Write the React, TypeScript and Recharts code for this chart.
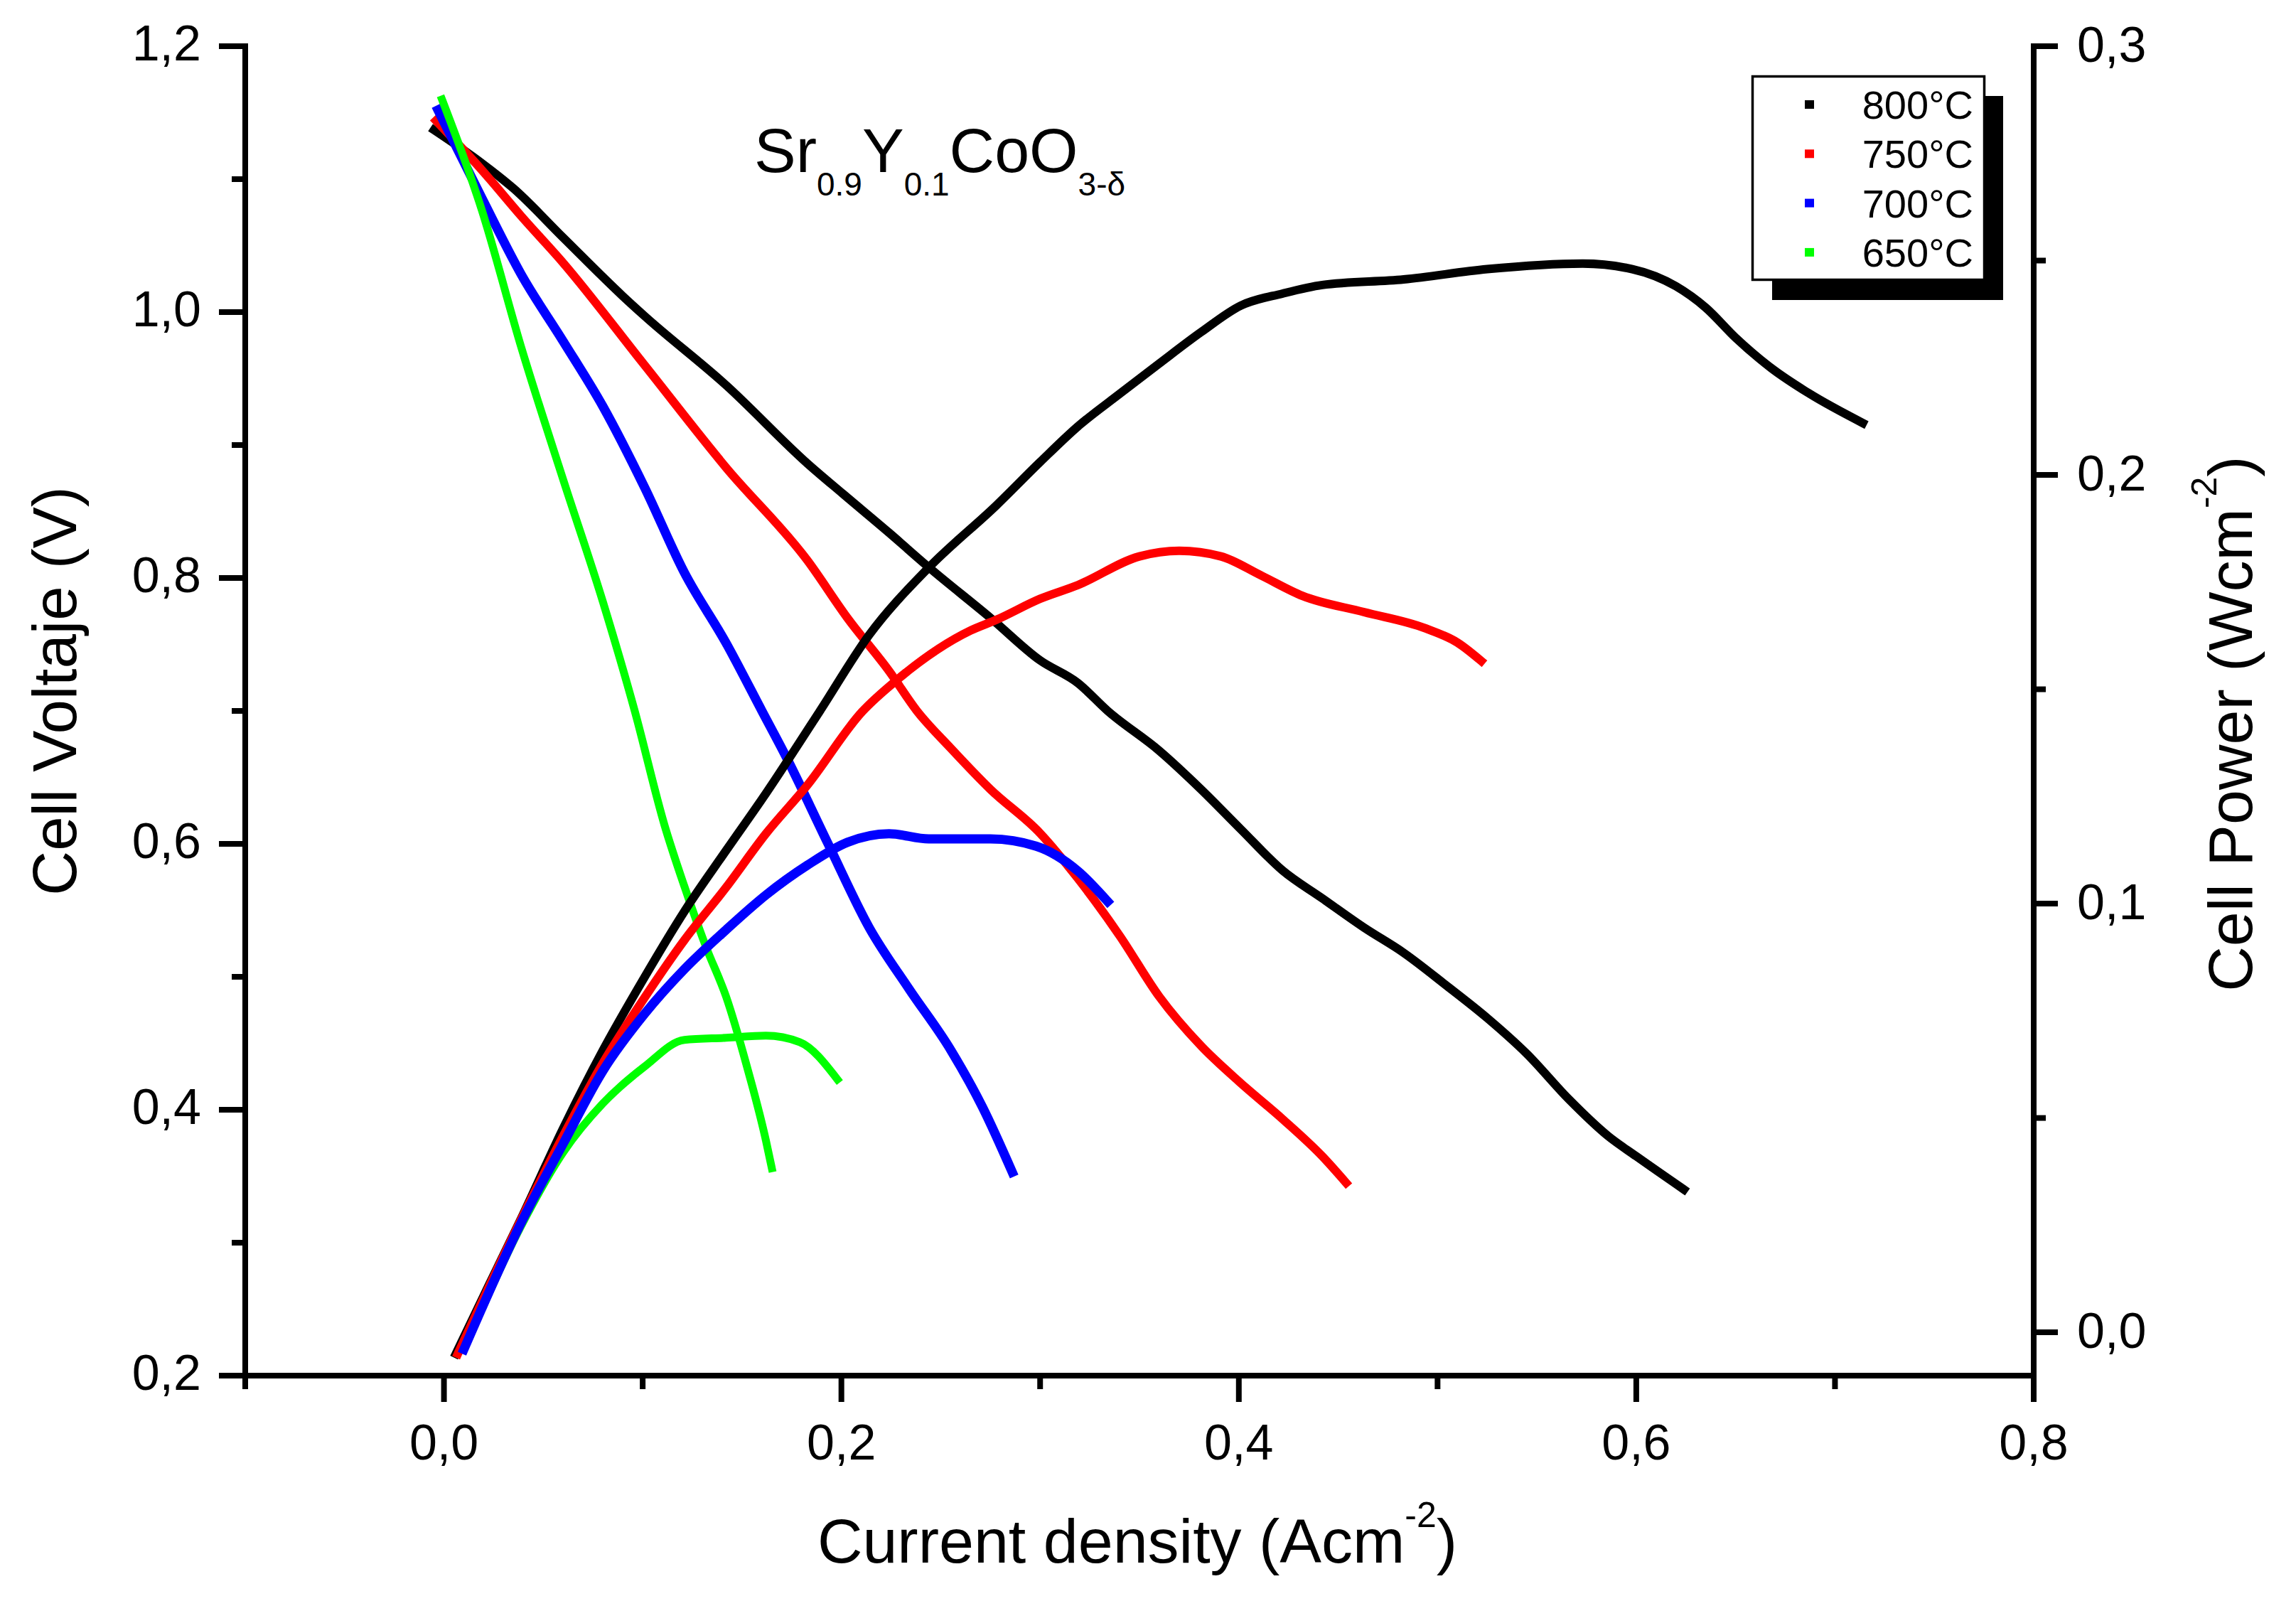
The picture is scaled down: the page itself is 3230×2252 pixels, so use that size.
import React from 'react';
import { ComposedChart, Line, XAxis, YAxis } from 'recharts';

// ---- data ----
const cur800V = [-0.005, 0.019, 0.035, 0.060, 0.090, 0.101, 0.142, 0.183, 0.201, 0.224, 0.244, 0.275, 0.300, 0.319, 0.334, 0.360, 0.381, 0.401, 0.422, 0.442, 0.463, 0.483, 0.504, 0.525, 0.545, 0.566, 0.586, 0.600, 0.624];
const volt800 = [1.137, 1.112, 1.093, 1.056, 1.012, 0.997, 0.945, 0.886, 0.863, 0.834, 0.808, 0.770, 0.738, 0.721, 0.700, 0.670, 0.641, 0.611, 0.580, 0.559, 0.537, 0.518, 0.494, 0.469, 0.442, 0.408, 0.380, 0.365, 0.340];

const cur750V = [-0.004, 0.019, 0.039, 0.060, 0.101, 0.142, 0.183, 0.203, 0.224, 0.238, 0.255, 0.275, 0.300, 0.319, 0.340, 0.360, 0.381, 0.401, 0.422, 0.442, 0.454];
const volt750 = [1.144, 1.107, 1.072, 1.037, 0.960, 0.883, 0.813, 0.770, 0.730, 0.700, 0.672, 0.641, 0.608, 0.574, 0.531, 0.485, 0.448, 0.420, 0.393, 0.365, 0.345];

const cur700V = [-0.003, 0.019, 0.039, 0.060, 0.080, 0.101, 0.121, 0.142, 0.160, 0.172, 0.193, 0.214, 0.234, 0.255, 0.271, 0.286];
const volt700 = [1.152, 1.086, 1.028, 0.978, 0.929, 0.868, 0.804, 0.751, 0.700, 0.666, 0.601, 0.537, 0.491, 0.445, 0.402, 0.353];

const cur650V = [-0.001, 0.019, 0.039, 0.060, 0.080, 0.096, 0.111, 0.121, 0.132, 0.142, 0.152, 0.162, 0.165];
const volt650 = [1.160, 1.077, 0.973, 0.874, 0.782, 0.700, 0.614, 0.568, 0.522, 0.485, 0.435, 0.377, 0.356];

const cur800P = [0.006, 0.023, 0.039, 0.060, 0.080, 0.101, 0.121, 0.142, 0.162, 0.189, 0.214, 0.244, 0.278, 0.300, 0.319, 0.340, 0.360, 0.381, 0.401, 0.422, 0.442, 0.483, 0.525, 0.573, 0.598, 0.620, 0.635, 0.650, 0.668, 0.687, 0.714];
const pow800 = [-0.005, 0.0114, 0.0267, 0.0476, 0.0658, 0.0829, 0.0982, 0.1124, 0.1257, 0.1448, 0.1627, 0.1784, 0.1929, 0.203, 0.2113, 0.2189, 0.226, 0.2333, 0.2395, 0.2423, 0.2443, 0.2456, 0.248, 0.2493, 0.248, 0.244, 0.239, 0.232, 0.2249, 0.219, 0.2121];

const cur750P = [0.007, 0.039, 0.060, 0.080, 0.101, 0.121, 0.142, 0.162, 0.183, 0.2105, 0.228, 0.265, 0.278, 0.300, 0.319, 0.350, 0.370, 0.391, 0.411, 0.432, 0.463, 0.494, 0.510, 0.522];
const pow750 = [-0.005, 0.0265, 0.0458, 0.0628, 0.0781, 0.0915, 0.1038, 0.1163, 0.1277, 0.1448, 0.1522, 0.1637, 0.1662, 0.1711, 0.1743, 0.181, 0.1823, 0.181, 0.1766, 0.1718, 0.168, 0.1642, 0.1609, 0.1566];

const cur700P = [0.010, 0.039, 0.060, 0.080, 0.101, 0.121, 0.142, 0.162, 0.183, 0.203, 0.224, 0.244, 0.275, 0.298, 0.319, 0.334];
const pow700 = [-0.004, 0.0257, 0.044, 0.061, 0.0743, 0.0847, 0.0939, 0.102, 0.109, 0.1143, 0.1163, 0.1151, 0.1151, 0.1134, 0.1076, 0.1005];

const cur650P = [0.010, 0.039, 0.060, 0.080, 0.101, 0.121, 0.142, 0.162, 0.179, 0.198];
const pow650 = [-0.004, 0.025, 0.042, 0.0534, 0.062, 0.0682, 0.0687, 0.0692, 0.0677, 0.059];

const seriesNames = ['800°C', '750°C', '700°C', '650°C'];
const seriesColors = ['#000000', '#ff0000', '#0000ff', '#00ff00'];

const xTicks = [-0.1, 0, 0.1, 0.2, 0.3, 0.4, 0.5, 0.6, 0.7, 0.8];
const vTicks = [0.2, 0.3, 0.4, 0.5, 0.6, 0.7, 0.8, 0.9, 1.0, 1.1, 1.2];
const pTicks = [0, 0.05, 0.1, 0.15, 0.2, 0.25, 0.3];

const zip = (xs: number[], ys: number[]) => xs.map((x, i) => ({ x, y: ys[i] }));

const FONT = '"Liberation Sans", Arial, Helvetica, sans-serif';
const W = 3230;
const H = 2252;
const TICK_FS = 70;
const SW = 8;

const fmt1 = (v: number) => v.toFixed(1).replace('.', ',');
const isMajor10 = (v: number) => Math.abs(Math.round(v * 10)) % 2 === 0;
const isMajorP = (v: number) => Math.round(v * 100) % 10 === 0;

const BottomTick = (props: any) => {
  const { x, y, payload } = props;
  const major = isMajor10(payload.value);
  return (
    <g>
      <line x1={x} x2={x} y1={y} y2={y + (major ? 37 : 19)} stroke="#000" strokeWidth={SW} />
      {major && (
        <text x={x} y={y + 118} textAnchor="middle" fontFamily={FONT} fontSize={TICK_FS} fill="#000">
          {fmt1(payload.value)}
        </text>
      )}
    </g>
  );
};

const TopTick = (props: any) => {
  const { x, y, payload } = props;
  const major = isMajor10(payload.value);
  return <line x1={x} x2={x} y1={y} y2={y + (major ? 37 : 19)} stroke="#000" strokeWidth={SW} />;
};

const LeftTick = (props: any) => {
  const { x, y, payload } = props;
  const major = isMajor10(payload.value);
  return (
    <g>
      <line x1={x - (major ? 37 : 19)} x2={x} y1={y} y2={y} stroke="#000" strokeWidth={SW} />
      {major && (
        <text x={x - 62} y={y + 20} textAnchor="end" fontFamily={FONT} fontSize={TICK_FS} fill="#000">
          {fmt1(payload.value)}
        </text>
      )}
    </g>
  );
};

const RightTick = (props: any) => {
  const { x, y, payload } = props;
  const major = isMajorP(payload.value);
  return (
    <g>
      <line x1={x} x2={x + (major ? 34 : 17)} y1={y} y2={y} stroke="#000" strokeWidth={SW} />
      {major && (
        <text x={x + 61} y={y + 22} textAnchor="start" fontFamily={FONT} fontSize={TICK_FS} fill="#000">
          {fmt1(payload.value)}
        </text>
      )}
    </g>
  );
};

const axisLineStyle = { stroke: '#000', strokeWidth: SW, strokeLinecap: 'square' as const };

export default function App() {
  const vData = [zip(cur800V, volt800), zip(cur750V, volt750), zip(cur700V, volt700), zip(cur650V, volt650)];
  const pData = [zip(cur800P, pow800), zip(cur750P, pow750), zip(cur700P, pow700), zip(cur650P, pow650)];
  const widths = [12, 12, 13, 11];
  const pOrder = [0, 1, 3, 2];

  const legendRows = seriesNames.map((name, i) => ({ name, color: seriesColors[i], cy: 147 + i * 69.3 }));

  return (
    <div style={{ position: 'absolute', left: 0, top: 0, width: W, height: H, background: '#fff' }}>
      <ComposedChart width={W} height={H} margin={{ top: 65, right: 169, bottom: 167, left: 145 }}>
        <XAxis
          xAxisId="b"
          type="number"
          dataKey="x"
          orientation="bottom"
          domain={[-0.1, 0.8]}
          ticks={xTicks}
          interval={0}
          allowDataOverflow
          height={150}
          tickSize={0}
          tickMargin={0}
          tickLine={false}
          axisLine={axisLineStyle}
          tick={BottomTick}
        />
        <XAxis
          xAxisId="t"
          type="number"
          dataKey="x"
          orientation="top"
          domain={[-0.1, 0.8]}
          ticks={xTicks}
          interval={0}
          allowDataOverflow
          height={0}
          tickSize={0}
          tickMargin={0}
          tickLine={false}
          axisLine={axisLineStyle}
          tick={TopTick}
        />
        <YAxis
          yAxisId="v"
          type="number"
          orientation="left"
          domain={[0.2, 1.2]}
          ticks={vTicks}
          interval={0}
          allowDataOverflow
          width={200}
          tickSize={0}
          tickMargin={0}
          tickLine={false}
          axisLine={axisLineStyle}
          tick={LeftTick}
        />
        <YAxis
          yAxisId="p"
          type="number"
          orientation="right"
          domain={[-0.0101, 0.3]}
          ticks={pTicks}
          interval={0}
          allowDataOverflow
          width={200}
          tickSize={0}
          tickMargin={0}
          tickLine={false}
          axisLine={axisLineStyle}
          tick={RightTick}
        />
        {vData.map((d, i) => (
          <Line
            key={'v' + i}
            xAxisId="b"
            yAxisId="v"
            data={d}
            dataKey="y"
            type="monotone"
            stroke={seriesColors[i]}
            strokeWidth={widths[i]}
            strokeLinejoin="round"
            strokeLinecap="square"
            dot={false}
            activeDot={false}
            isAnimationActive={false}
            name={seriesNames[i] + ' V'}
          />
        ))}
        {pOrder.map((i) => (
          <Line
            key={'p' + i}
            xAxisId="b"
            yAxisId="p"
            data={pData[i]}
            dataKey="y"
            type="monotone"
            stroke={seriesColors[i]}
            strokeWidth={widths[i]}
            strokeLinejoin="round"
            strokeLinecap="square"
            dot={false}
            activeDot={false}
            isAnimationActive={false}
            name={seriesNames[i] + ' P'}
          />
        ))}
      </ComposedChart>
      <svg
        width={W}
        height={H}
        style={{ position: 'absolute', left: 0, top: 0, pointerEvents: 'none' }}
        fontFamily={FONT}
      >
        {/* title */}
        <text x={1061} y={242} fontSize={88} fill="#000">
          Sr
          <tspan fontSize={46} dy={33}>0.9</tspan>
          <tspan fontSize={88} dy={-33}>Y</tspan>
          <tspan fontSize={46} dy={33}>0.1</tspan>
          <tspan fontSize={88} dy={-33}>CoO</tspan>
          <tspan fontSize={46} dy={33}>3-δ</tspan>
        </text>

        {/* legend */}
        <rect x={2493} y={135} width={325} height={287} fill="#000" />
        <rect x={2465.5} y={107.5} width={326} height={286} fill="#fff" stroke="#000" strokeWidth={3.5} />
        {legendRows.map((r) => (
          <g key={r.name}>
            <rect x={2539} y={r.cy - 6} width={13} height={12} fill={r.color} />
            <text x={2776} y={r.cy + 20} textAnchor="end" fontSize={56} fill="#000">
              {r.name}
            </text>
          </g>
        ))}

        {/* axis titles */}
        <text x={1600} y={2198} textAnchor="middle" fontSize={88} fill="#000">
          Current density (Acm
          <tspan fontSize={50} dy={-50}>-2</tspan>
          <tspan fontSize={88} dy={50}>)</tspan>
        </text>
        <text transform="translate(107,972) rotate(-90)" textAnchor="middle" fontSize={87} fill="#000">
          Cell Voltaje (V)
        </text>
        <text transform="translate(3168,1018) rotate(-90)" textAnchor="middle" fontSize={88} fill="#000">
          Cell Power (Wcm
          <tspan fontSize={50} dy={-50}>-2</tspan>
          <tspan fontSize={88} dy={50}>)</tspan>
        </text>
      </svg>
    </div>
  );
}
